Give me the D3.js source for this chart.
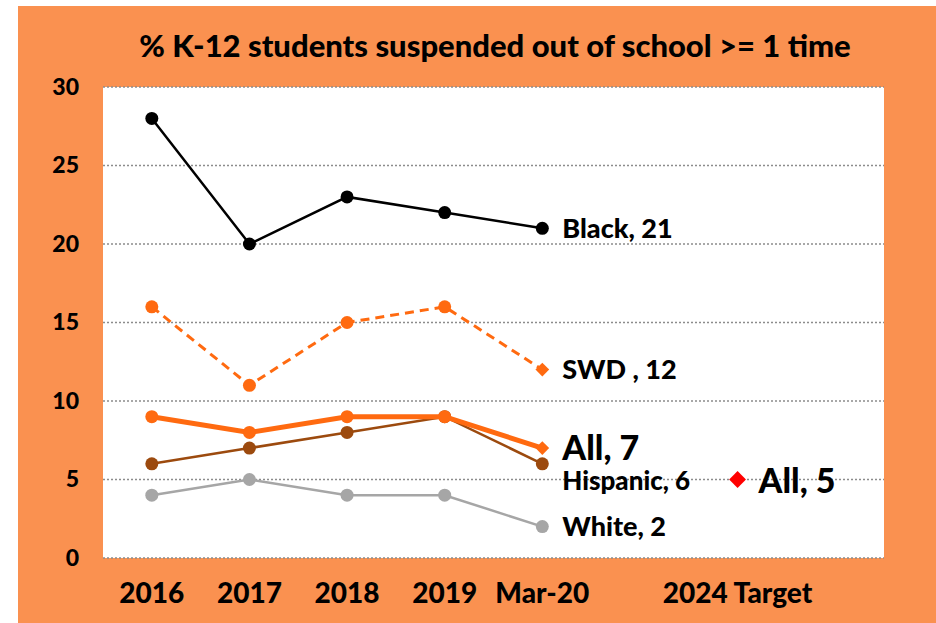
<!DOCTYPE html>
<html>
<head>
<meta charset="utf-8">
<script src="https://cdn.jsdelivr.net/npm/d3@7"></script>
<style>
  html, body { margin: 0; padding: 0; background: #fff; }
  svg { display: block; }
  text { font-family: Lato, "Open Sans", sans-serif; font-weight: 900; fill: #000; }
</style>
</head>
<body>
<svg width="936" height="623"></svg>
<script>
// categories on the x axis (blank slots keep the spacing of the original)
var categories = ["2016", "2017", "2018", "2019", "Mar-20", " ", "2024 Target", "  "];
var years = ["2016", "2017", "2018", "2019", "Mar-20"];

var black    = [28, 20, 23, 22, 21];
var swd      = [16, 11, 15, 16, 12];
var all      = [9, 8, 9, 9, 7];
var hispanic = [6, 7, 8, 9, 6];
var white    = [4, 5, 4, 4, 2];

var target = { cat: "2024 Target", value: 5, label: "All, 5" };

var yTicks = [0, 5, 10, 15, 20, 25, 30];

var series = [
  { name: "Black",    values: black,    label: "Black, 21",   color: "#000000", width: 2.5, dash: null,  end: "circle",  size: 27, dy: 0 },
  { name: "SWD",      values: swd,      label: "SWD , 12",    color: "#FF6A10", width: 3,   dash: "9,6", end: "diamond", size: 27, dy: 0 },
  { name: "White",    values: white,    label: "White, 2",    color: "#A6A6A6", width: 2.5, dash: null,  end: "circle",  size: 27, dy: 0 },
  { name: "Hispanic", values: hispanic, label: "Hispanic, 6", color: "#9C4A0E", width: 2.5, dash: null,  end: "circle",  size: 26, dy: 17 },
  { name: "All",      values: all,      label: "All, 7",      color: "#FF6A10", width: 5,   dash: null,  end: "diamond", size: 34, dy: 0 }
];

var svg = d3.select("svg");

svg.append("rect")
  .attr("x", 18).attr("y", 6)
  .attr("width", 936 - 18).attr("height", 623 - 6)
  .attr("fill", "#FA9150");

var plot = { left: 103, top: 87, right: 884, bottom: 558 };

svg.append("rect")
  .attr("x", plot.left).attr("y", plot.top)
  .attr("width", plot.right - plot.left).attr("height", plot.bottom - plot.top)
  .attr("fill", "#fff");

var x = d3.scaleBand().domain(categories).range([plot.left, plot.right]);
var y = d3.scaleLinear().domain([0, 30]).range([plot.bottom, plot.top]);
var cx = function(c) { return x(c) + x.bandwidth() / 2; };

// gridlines
svg.append("g").selectAll("line")
  .data(yTicks).enter().append("line")
  .attr("x1", plot.left).attr("x2", plot.right)
  .attr("y1", function(d) { return y(d); })
  .attr("y2", function(d) { return y(d); })
  .style("stroke", "#8c8c8c")
  .style("stroke-width", 1.5)
  .style("stroke-dasharray", "2,2");

// y axis labels
var yAxis = d3.axisLeft(y).tickValues(yTicks).tickSize(0).tickPadding(0);
var yg = svg.append("g").attr("transform", "translate(79,0)").call(yAxis);
yg.select(".domain").remove();
yg.selectAll("text")
  .style("font-family", "Lato, sans-serif")
  .style("font-weight", "900")
  .style("font-size", "23px")
  .attr("fill", "#000");

// x axis labels
var xAxis = d3.axisBottom(x).tickSize(0).tickPadding(0);
var xg = svg.append("g").attr("transform", "translate(0,583)").call(xAxis);
xg.select(".domain").remove();
xg.selectAll("text")
  .style("font-family", "Lato, sans-serif")
  .style("font-weight", "900")
  .style("font-size", "28px")
  .attr("fill", "#000");

// title
svg.append("text")
  .attr("x", 495).attr("y", 57)
  .attr("text-anchor", "middle")
  .style("font-size", "31px")
  .text("% K-12 students suspended out of school >= 1 time");

var line = d3.line()
  .x(function(d, i) { return cx(years[i]); })
  .y(function(d) { return y(d); });

var diamond = d3.symbol().type(d3.symbolDiamond2);

series.forEach(function(s) {
  var g = svg.append("g");
  g.append("path")
    .datum(s.values)
    .attr("d", line)
    .attr("fill", "none")
    .style("stroke", s.color)
    .style("stroke-width", s.width)
    .style("stroke-dasharray", s.dash);

  s.values.forEach(function(v, i) {
    var last = i === s.values.length - 1;
    if (last && s.end === "diamond") {
      g.append("path")
        .attr("d", diamond.size(120)())
        .attr("transform", "translate(" + cx(years[i]) + "," + y(v) + ")")
        .attr("fill", s.color);
    } else {
      g.append("circle")
        .attr("cx", cx(years[i]))
        .attr("cy", y(v))
        .attr("r", 6.5)
        .attr("fill", s.color);
    }
  });

  var lastV = s.values[s.values.length - 1];
  g.append("text")
    .attr("x", cx(years[years.length - 1]) + 20)
    .attr("y", y(lastV) + s.dy)
    .attr("dy", "0.35em")
    .style("font-size", s.size + "px")
    .text(s.label);
});

// 2024 target marker
svg.append("path")
  .attr("d", diamond.size(180)())
  .attr("transform", "translate(" + cx(target.cat) + "," + y(target.value) + ")")
  .attr("fill", "#FF0000");

svg.append("text")
  .attr("x", cx(target.cat) + 21)
  .attr("y", y(target.value) + 2)
  .attr("dy", "0.35em")
  .style("font-size", "34px")
  .text(target.label);
</script>
</body>
</html>
